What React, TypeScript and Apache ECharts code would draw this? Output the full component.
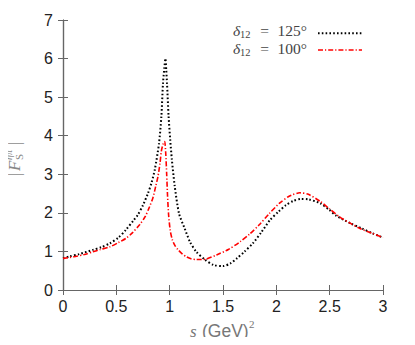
import React, { useEffect, useRef } from "react";
import * as echarts from "echarts";

// delta12 = 125 deg (black dotted)
const sA = [0, 0.06, 0.15, 0.28, 0.36, 0.44, 0.52, 0.59, 0.66, 0.7, 0.75, 0.797, 0.83, 0.86, 0.9, 0.922, 0.9375, 0.95, 0.96, 0.968, 0.975, 0.99, 1.005, 1.02, 1.047, 1.088, 1.14, 1.19, 1.25, 1.33, 1.41, 1.5, 1.57, 1.63, 1.7, 1.78, 1.86, 1.94, 2.02, 2.09, 2.16, 2.23, 2.3, 2.41, 2.5, 2.56, 2.7, 2.8, 2.9, 3.0];
const vA = [0.82, 0.87, 0.93, 1.04, 1.11, 1.21, 1.36, 1.56, 1.8, 1.94, 2.2, 2.51, 2.78, 3.11, 3.8, 4.49, 5.36, 5.75, 6.0, 5.7, 5.36, 4.5, 3.9, 3.4, 2.7, 1.98, 1.6, 1.25, 0.99, 0.79, 0.65, 0.62, 0.69, 0.82, 0.99, 1.21, 1.5, 1.81, 2.03, 2.2, 2.31, 2.36, 2.35, 2.25, 2.07, 1.93, 1.72, 1.6, 1.47, 1.36];

// delta12 = 100 deg (red dash-dot)
const sB = [0, 0.1, 0.2, 0.28, 0.35, 0.44, 0.52, 0.59, 0.65, 0.72, 0.77, 0.81, 0.844, 0.87, 0.89, 0.91, 0.922, 0.94, 0.953, 0.963, 0.972, 0.98, 0.99, 1.005, 1.025, 1.05, 1.08, 1.12, 1.157, 1.2, 1.25, 1.3, 1.34, 1.44, 1.55, 1.66, 1.75, 1.84, 1.93, 2.03, 2.12, 2.22, 2.3, 2.41, 2.5, 2.59, 2.7, 2.78, 2.9, 3.0];
const vB = [0.82, 0.86, 0.92, 0.99, 1.05, 1.12, 1.23, 1.34, 1.48, 1.7, 1.9, 2.15, 2.4, 2.7, 2.94, 3.3, 3.6, 3.8, 3.85, 3.55, 3.0, 2.45, 1.95, 1.55, 1.3, 1.15, 1.04, 0.93, 0.86, 0.81, 0.79, 0.79, 0.8, 0.91, 1.05, 1.25, 1.45, 1.69, 1.97, 2.25, 2.43, 2.52, 2.48, 2.3, 2.1, 1.9, 1.72, 1.6, 1.47, 1.36];

const seriesNames = ["δ12 = 125°", "δ12 = 100°"];
const legendAngles = ["125°", "100°"];

const SERIF = "'Liberation Serif', 'DejaVu Serif', serif";
const SANS = "'Liberation Sans', Arial, sans-serif";

const BLACK_DASH = [1.6, 2.2];
const RED_DASH = [5, 2, 1.2, 2];

export default function App() {
  const ref = useRef<HTMLDivElement>(null);
  useEffect(() => {
    if (!ref.current) return;
    const chart = echarts.init(ref.current, undefined, { renderer: "svg" });
    const axisLine = { show: true, lineStyle: { color: "#666", width: 1.2 } };
    const tick = { show: true, inside: true, length: 5, lineStyle: { color: "#666" } };
    const legendRow = (y: number, ty: number, ang: string, color: string, dash: number[], w: number) => ({
      type: "group",
      children: [
        { type: "text", x: 233, y: ty, style: { text: "δ", font: `italic 15.5px ${SERIF}`, fill: "#444", verticalAlign: "middle" } },
        { type: "text", x: 240, y: ty + 4, style: { text: "12", font: `10.5px ${SERIF}`, fill: "#444", verticalAlign: "middle" } },
        { type: "text", x: 264.5, y: ty, style: { text: "=", font: `15.5px ${SERIF}`, fill: "#444", align: "center", verticalAlign: "middle" } },
        { type: "text", x: 307, y: ty, style: { text: ang, font: `15.5px ${SERIF}`, fill: "#444", align: "right", verticalAlign: "middle" } },
        { type: "line", shape: { x1: 318, y1: y, x2: 362, y2: y }, style: { stroke: color, lineWidth: w, lineDash: dash } },
      ],
    });
    chart.setOption({
      animation: false,
      grid: { left: 63, right: 32, top: 20, bottom: 55 },
      xAxis: [
        {
          type: "value", min: 0, max: 3, interval: 0.5, position: "bottom",
          axisLine, axisTick: tick, splitLine: { show: false },
          axisLabel: { fontSize: 16, color: "#222", fontFamily: SANS, margin: 8 },
        },
        {
          type: "value", min: 0, max: 3, interval: 0.5, position: "top",
          axisLine, axisTick: tick, splitLine: { show: false }, axisLabel: { show: false },
        },
      ],
      yAxis: [
        {
          type: "value", min: 0, max: 7, interval: 1, position: "left",
          axisLine, axisTick: tick, splitLine: { show: false },
          axisLabel: { fontSize: 16, color: "#222", fontFamily: SANS, margin: 10 },
        },
        {
          type: "value", min: 0, max: 7, interval: 1, position: "right",
          axisLine, axisTick: tick, splitLine: { show: false }, axisLabel: { show: false },
        },
      ],
      series: [
        {
          name: seriesNames[0],
          type: "line",
          data: sA.map((s, i) => [s, vA[i]]),
          showSymbol: false,
          symbol: "none",
          smooth: 0.25,
          lineStyle: { color: "#000", width: 2, type: BLACK_DASH, cap: "butt" },
        },
        {
          name: seriesNames[1],
          type: "line",
          data: sB.map((s, i) => [s, vB[i]]),
          showSymbol: false,
          symbol: "none",
          smooth: 0.25,
          lineStyle: { color: "#ff0000", width: 1.6, type: RED_DASH, cap: "butt" },
        },
      ],
      graphic: [
        legendRow(33.3, 30.8, legendAngles[0], "#000", BLACK_DASH, 2),
        legendRow(50, 48.8, legendAngles[1], "#ff0000", RED_DASH, 1.6),
        {
          type: "group",
          x: 14,
          y: 157,
          rotation: Math.PI / 2,
          children: [
            { type: "text", x: -19, y: 0, style: { text: "|", font: `17px ${SERIF}`, fill: "#888", verticalAlign: "middle" } },
            { type: "text", x: -14, y: 0, style: { text: "F", font: `italic 17px ${SERIF}`, fill: "#888", verticalAlign: "middle" } },
            { type: "text", x: -3, y: 5, style: { text: "S", font: `11px ${SERIF}`, fill: "#888", verticalAlign: "middle" } },
            { type: "text", x: -3, y: -6, style: { text: "ηπ", font: `italic 10px ${SERIF}`, fill: "#888", verticalAlign: "middle" } },
            { type: "text", x: 12, y: 0, style: { text: "|", font: `17px ${SERIF}`, fill: "#888", verticalAlign: "middle" } },
          ],
        },
        {
          type: "group",
          children: [
            { type: "text", x: 190, y: 331, style: { text: "s", font: `italic 17px ${SERIF}`, fill: "#777", verticalAlign: "middle" } },
            { type: "text", x: 202, y: 331, style: { text: "(GeV)", font: `17.5px ${SANS}`, fill: "#777", verticalAlign: "middle" } },
            { type: "text", x: 249, y: 324, style: { text: "2", font: `11px ${SERIF}`, fill: "#777", verticalAlign: "middle" } },
          ],
        },
      ],
    });
    return () => chart.dispose();
  }, []);
  return <div ref={ref} style={{ width: 415, height: 345, margin: -8 }} />;
}
